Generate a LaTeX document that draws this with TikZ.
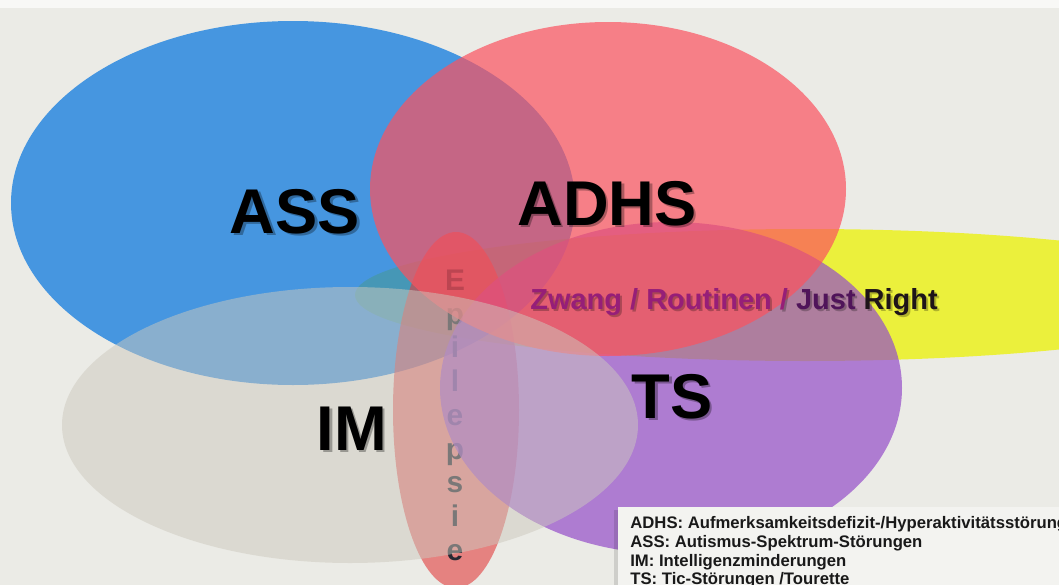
\documentclass[tikz,border=0pt]{standalone}
\usepackage{fontspec}
\setmainfont{Liberation Sans}
\definecolor{bg}{RGB}{235,235,230}
\definecolor{topstrip}{RGB}{248,248,246}
\definecolor{yel}{RGB}{235,240,60}
\definecolor{assblue}{RGB}{15,122,223}
\definecolor{adhsred}{RGB}{252,82,95}
\definecolor{tspurple}{RGB}{149,78,201}
\definecolor{imgray}{RGB}{205,201,190}
\definecolor{epired}{RGB}{225,60,60}
\definecolor{epitext}{RGB}{40,40,50}
\definecolor{legbg}{RGB}{243,243,240}
\definecolor{legtext}{RGB}{25,25,25}
\definecolor{zwcol}{RGB}{150,30,120}
\definecolor{justcol}{RGB}{80,20,90}
\definecolor{rightcol}{RGB}{30,20,25}
\begin{document}
\begin{tikzpicture}[x=0.02cm,y=-0.02cm,
  bigfont/.style={font=\fontsize{36}{36}\selectfont\bfseries, inner sep=0pt, anchor=base},
  bigshadow/.style={bigfont, text=black, text opacity=0.3},
  zwfont/.style={font=\fontsize{16.5}{16.5}\selectfont\bfseries, inner sep=0pt, anchor=base west},
  epifont/.style={font=\fontsize{17}{17}\selectfont\bfseries, inner sep=0pt, anchor=base, text=epitext},
  legfont/.style={font=\fontsize{9.5}{9.5}\selectfont\bfseries, inner sep=0pt, anchor=base west, text=legtext}]
\useasboundingbox (0,0) rectangle (1059,585);
\clip (0,0) rectangle (1059,585);
% background
\fill[bg] (0,0) rectangle (1059,585);
\fill[topstrip] (0,0) rectangle (1059,8);
% Zwang (yellow)
\fill[yel] (805,295) ellipse [x radius=450, y radius=66];
% ASS (blue)
\fill[assblue, fill opacity=0.75] (293,203) ellipse [x radius=282, y radius=182];
% Epilepsie (red, vertical) with its letters
\fill[epired, fill opacity=0.6] (456,410) ellipse [x radius=63, y radius=178];
\node[epifont] (e1) at (455,290) {E};
\node[epifont] (e2) at (455,324) {p};
\node[epifont] (e3) at (455,357) {i};
\node[epifont] (e4) at (455,391) {l};
\node[epifont] (e5) at (455,425) {e};
\node[epifont] (e6) at (455,459) {p};
\node[epifont] (e7) at (455,492) {s};
\node[epifont] (e8) at (455,526) {i};
\node[epifont] (e9) at (455,560) {e};
% TS (purple)
\fill[tspurple, fill opacity=0.7] (671,388) ellipse [x radius=231, y radius=166];
% ADHS (red)
\fill[adhsred, fill opacity=0.7] (608,189) ellipse [x radius=238, y radius=167];
% IM (gray)
\fill[imgray, fill opacity=0.5] (350,425) ellipse [x radius=288, y radius=138];
% big labels with shadows
\node[bigshadow] at (297.5,235.5) {ASS};
\node[bigfont] (ass) at (295,233) {ASS};
\node[bigshadow] at (609.5,227.5) {ADHS};
\node[bigfont] (adhs) at (607,225) {ADHS};
\node[bigshadow] at (674.5,420.5) {TS};
\node[bigfont] (ts) at (672,418) {TS};
\node[bigshadow] at (354.5,452.5) {IM};
\node[bigfont] (im) at (352,450) {IM};
% Zwang label
\node[zwfont, text=black, text opacity=0.25] at (532,311) {Zwang / Routinen / Just Right};
\node[zwfont] (zwang) at (530,309) {\textcolor{zwcol}{Zwang / Routinen /} \textcolor{justcol}{Just} \textcolor{rightcol}{Right}};
% legend
\fill[black, fill opacity=0.12] (614,510) rectangle (1059,585);
\fill[legbg] (618,507) rectangle (1059,585);
\node[legfont] (l1) at (630,528) {ADHS: Aufmerksamkeitsdefizit-/Hyperaktivitätsstörung};
\node[legfont] (l2) at (630,547) {ASS: Autismus-Spektrum-Störungen};
\node[legfont] (l3) at (630,566) {IM: Intelligenzminderungen};
\node[legfont] (l4) at (630,584) {TS: Tic-Störungen /Tourette};
\end{tikzpicture}
\end{document}
